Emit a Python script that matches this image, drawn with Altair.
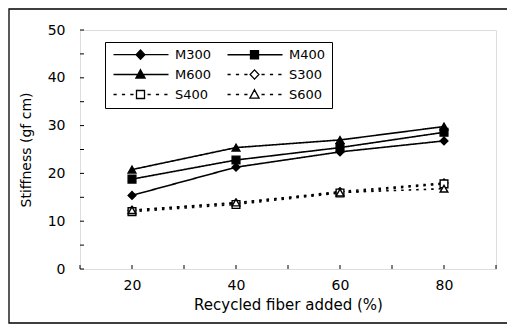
import altair as alt
import pandas as pd

# ---- data ----
pct = [20, 40, 60, 80]
series_names = ["M300", "M400", "M600", "S300", "S400", "S600"]
M300 = [15.4, 21.3, 24.5, 26.8]
M400 = [18.8, 22.8, 25.4, 28.6]
M600 = [20.8, 25.4, 27.0, 29.8]
S300 = [12.3, 13.8, 16.2, 18.0]
S400 = [12.0, 13.5, 15.9, 17.8]
S600 = [12.3, 13.9, 16.0, 16.8]

# legend reading order (column by column: 3 rows x 2 columns)
legend_order = ["M300", "M600", "S400", "M400", "S300", "S600"]

x_label_values = [20, 40, 60, 80]
x_tick_values = [10, 20, 30, 40, 50, 60, 70, 80, 90]
y_label_values = [0, 10, 20, 30, 40, 50]
y_tick_values = [0, 5, 10, 15, 20, 25, 30, 35, 40, 45, 50]

values = {"M300": M300, "M400": M400, "M600": M600,
          "S300": S300, "S400": S400, "S600": S600}
rows = []
for name in series_names:
    for p, v in zip(pct, values[name]):
        rows.append({"series": name, "pct": p, "stiff": v})
df = pd.DataFrame(rows)
xt = pd.DataFrame({"pct": x_tick_values})
yt = pd.DataFrame({"stiff": y_tick_values})
frame_df = pd.DataFrame({"k": [0]})

W, H = 416, 239
FONT = "DejaVu Sans"

xscale = alt.Scale(domain=[10, 90], nice=False, zero=False)
yscale = alt.Scale(domain=[0, 50], nice=False)
xaxis = alt.Axis(values=x_label_values, ticks=False, domain=False, grid=False,
                 labelPadding=9, titlePadding=5, labelFontSize=14, titleFontSize=15,
                 labelFont=FONT, titleFont=FONT, labelColor="black", titleColor="black",
                 titleFontWeight="normal", format="d")
yaxis = alt.Axis(values=y_label_values, ticks=False, domain=False, grid=False,
                 labelPadding=15, titlePadding=14, labelFontSize=14, titleFontSize=14,
                 labelFont=FONT, titleFont=FONT, labelColor="black", titleColor="black",
                 titleFontWeight="normal", format="d")

X = alt.X("pct:Q", scale=xscale, axis=xaxis, title="Recycled fiber added (%)")
Y = alt.Y("stiff:Q", scale=yscale, axis=yaxis, title="Stiffness (gf cm)")

dash_range = [[1, 0], [1, 0], [1, 0], [2.5, 5], [2.5, 5], [2.5, 5]]
width_range = [1.6, 1.6, 1.6, 2.6, 2.6, 2.6]
shape_range = ["diamond", "square", "triangle-up", "diamond", "square", "triangle-up"]
fill_range = ["black", "black", "black", "white", "white", "white"]

# legend symbols: line + marker drawn as one path
solid = "M-1,0H12.75"
dotted = ("M-1,0H-0.2M1.1,0H1.9M3.2,0H4"
          "M7.5,0H8.3M9.6,0H10.4M11.7,0H12.5")
diamond = "M5.75,-1.15L6.85,0L5.75,1.15L4.65,0Z"
square = "M4.75,-1H6.75V1H4.75Z"
tri = "M5.75,-1.2L6.9,0.9H4.6Z"
legend_path = {"M300": solid + diamond, "M400": solid + square, "M600": solid + tri,
               "S300": dotted + diamond, "S400": dotted + square, "S600": dotted + tri}
legend_fill = {"M300": "black", "M400": "black", "M600": "black",
               "S300": "white", "S400": "white", "S600": "white"}

lines = alt.Chart(df).mark_line(color="black").encode(
    x=X, y=Y, detail="series:N",
    strokeDash=alt.StrokeDash("series:N", scale=alt.Scale(domain=series_names, range=dash_range), legend=None),
    strokeWidth=alt.StrokeWidth("series:N", scale=alt.Scale(domain=series_names, range=width_range), legend=None),
)

points = alt.Chart(df).mark_point(filled=True, stroke="black", strokeWidth=1.4, size=60, opacity=1).encode(
    x=X, y=Y,
    shape=alt.Shape("series:N", scale=alt.Scale(domain=series_names, range=shape_range), legend=None),
    fill=alt.Fill("series:N", scale=alt.Scale(domain=series_names, range=fill_range), legend=None),
)

legend = alt.Legend(title=None, orient="none", legendX=25, legendY=12, columns=2,
                    columnPadding=12, rowPadding=5, padding=6, strokeColor="black",
                    labelFontSize=13, labelFont=FONT, labelColor="black", labelOffset=51,
                    symbolSize=64, symbolStrokeColor="black", symbolStrokeWidth=1.3,
                    symbolOpacity=1)

legend_layer = alt.Chart(df).transform_filter("false").mark_point(
    filled=True, strokeWidth=1.3, size=64, opacity=1).encode(
    x=X, y=Y,
    shape=alt.Shape("series:N", scale=alt.Scale(domain=legend_order,
                    range=[legend_path[s] for s in legend_order]), legend=legend),
    fill=alt.Fill("series:N", scale=alt.Scale(domain=legend_order,
                  range=[legend_fill[s] for s in legend_order]), legend=legend),
    stroke=alt.Stroke("series:N", scale=alt.Scale(domain=legend_order,
                      range=["black"] * 6), legend=legend),
)

xticks = alt.Chart(xt).mark_rule(color="black", strokeWidth=1).encode(
    x=X, y=alt.value(H), y2=alt.value(H - 4))
yticks = alt.Chart(yt).mark_rule(color="black", strokeWidth=1).encode(
    y=Y, x=alt.value(0), x2=alt.value(4))

frame = alt.Chart(frame_df).mark_rect(fillOpacity=0, stroke="black", strokeWidth=1.3).encode(
    x=alt.value(-71), x2=alt.value(W + 81), y=alt.value(-21), y2=alt.value(H + 54))

chart = alt.layer(frame, xticks, yticks, lines, points, legend_layer).resolve_scale(
    shape="independent", fill="independent", stroke="independent"
).properties(
    width=W, height=H,
    autosize=alt.AutoSizeParams(type="none"),
    padding={"left": 72, "top": 22, "right": 11, "bottom": 55},
).configure_view(stroke="black", strokeWidth=1.3).configure(background="white")

chart.save("out.html", embed_options={"renderer": "svg", "actions": False})
